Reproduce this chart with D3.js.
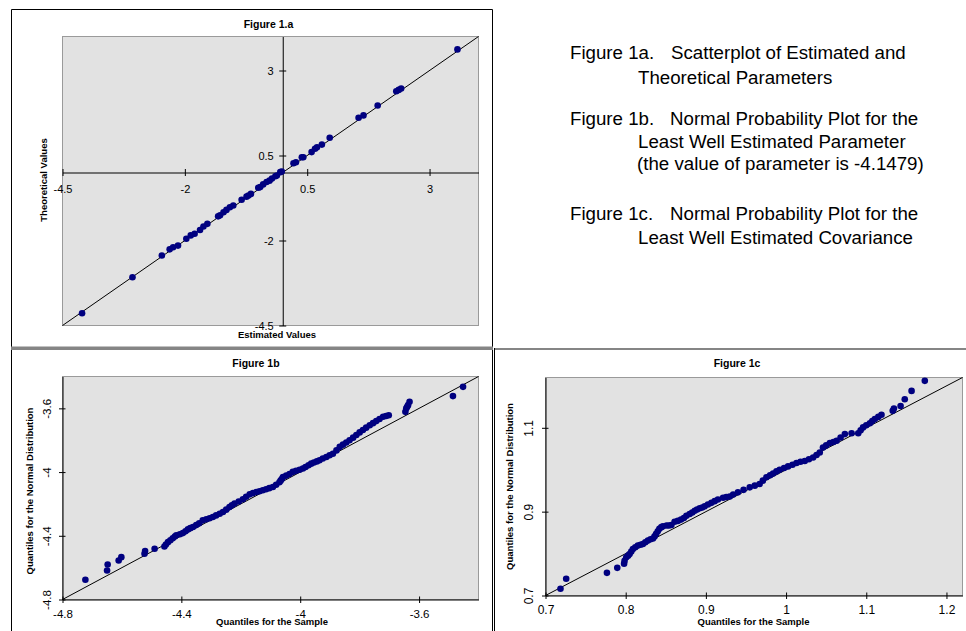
<!DOCTYPE html>
<html><head><meta charset="utf-8">
<script src="https://cdn.jsdelivr.net/npm/d3@7"></script>
<style>
body{margin:0;background:#fff;}
svg{display:block;}
</style></head><body>
<svg id="chart" width="966" height="631"></svg>
<script>
// ---------- DATA ----------
// Figure 1a: estimated vs theoretical parameters
const aEstimated   = [-4.10,-3.07,-2.47,-2.31,-2.24,-2.14,-1.97,-1.88,-1.80,-1.69,-1.62,-1.54,-1.32,-1.28,-1.21,-1.15,-1.08,-1.01,-0.84,-0.74,-0.70,-0.65,-0.50,-0.46,-0.40,-0.33,-0.27,-0.22,-0.15,-0.12,-0.05,-0.02,0.22,0.27,0.39,0.42,0.59,0.66,0.70,0.80,0.96,1.55,1.65,1.94,2.32,2.37,2.42,3.57];
const aTheoretical = [-4.14,-3.08,-2.44,-2.26,-2.20,-2.15,-1.95,-1.85,-1.80,-1.69,-1.59,-1.51,-1.29,-1.26,-1.17,-1.10,-1.02,-0.97,-0.80,-0.71,-0.68,-0.63,-0.45,-0.43,-0.35,-0.28,-0.24,-0.18,-0.11,-0.09,0.01,0.03,0.27,0.30,0.45,0.45,0.60,0.70,0.74,0.82,1.02,1.61,1.68,1.97,2.39,2.43,2.47,3.62];
const aDomain = [-4.5, 4];
const aXTicks = [-4.5, -2, 0.5, 3];
const aYTicks = [3, 0.5, -2, -4.5];

// Figure 1b: normal probability plot, least well estimated parameter
const bSample = [-4.723,-4.650,-4.648,-4.611,-4.602,-4.524,-4.522,-4.490,-4.457,-4.452,-4.445,-4.437,-4.429,-4.422,-4.417,-4.405,-4.395,-4.386,-4.378,-4.370,-4.361,-4.350,-4.340,-4.328,-4.316,-4.305,-4.294,-4.283,-4.271,-4.260,-4.249,-4.238,-4.230,-4.221,-4.207,-4.193,-4.182,-4.170,-4.159,-4.148,-4.137,-4.126,-4.115,-4.104,-4.092,-4.081,-4.070,-4.066,-4.062,-4.058,-4.047,-4.036,-4.025,-4.014,-4.002,-3.991,-3.982,-3.972,-3.963,-3.954,-3.944,-3.935,-3.924,-3.912,-3.901,-3.890,-3.878,-3.867,-3.856,-3.845,-3.834,-3.822,-3.811,-3.800,-3.789,-3.778,-3.766,-3.755,-3.744,-3.733,-3.721,-3.711,-3.702,-3.646,-3.643,-3.640,-3.637,-3.632,-3.486,-3.452];
const bNormal = [-4.676,-4.618,-4.580,-4.555,-4.534,-4.513,-4.496,-4.481,-4.467,-4.455,-4.440,-4.428,-4.415,-4.405,-4.397,-4.390,-4.383,-4.372,-4.360,-4.352,-4.345,-4.333,-4.322,-4.303,-4.296,-4.290,-4.282,-4.272,-4.262,-4.251,-4.236,-4.220,-4.209,-4.198,-4.185,-4.171,-4.155,-4.140,-4.132,-4.125,-4.120,-4.114,-4.108,-4.101,-4.094,-4.080,-4.064,-4.054,-4.044,-4.031,-4.022,-4.012,-3.999,-3.992,-3.985,-3.978,-3.968,-3.957,-3.947,-3.940,-3.933,-3.926,-3.915,-3.905,-3.894,-3.885,-3.864,-3.842,-3.828,-3.814,-3.800,-3.784,-3.767,-3.751,-3.736,-3.721,-3.706,-3.693,-3.680,-3.667,-3.653,-3.648,-3.643,-3.622,-3.600,-3.590,-3.580,-3.559,-3.523,-3.465];
const bDomain = [-4.8, -3.4];
const bTicks = [-4.8, -4.4, -4, -3.6];

// Figure 1c: normal probability plot, least well estimated covariance
const cSample = [0.7187,0.7258,0.7766,0.7895,0.7980,0.7986,0.8007,0.8030,0.8049,0.8070,0.8090,0.8120,0.8152,0.8185,0.8215,0.8245,0.8277,0.8310,0.8340,0.8360,0.8380,0.8400,0.8420,0.8445,0.8465,0.8510,0.8540,0.8570,0.8610,0.8650,0.8690,0.8725,0.8757,0.8798,0.8830,0.8860,0.8890,0.8923,0.8955,0.8985,0.9025,0.9069,0.9110,0.9150,0.9214,0.9255,0.9297,0.9340,0.9400,0.9470,0.9547,0.9610,0.9670,0.9710,0.9755,0.9800,0.9838,0.9880,0.9920,0.9975,1.0025,1.0080,1.0130,1.0180,1.0233,1.0285,1.0337,1.0380,1.0420,1.0460,1.0500,1.0546,1.0590,1.0630,1.0680,1.0733,1.0817,1.0900,1.0930,1.0960,1.1000,1.1045,1.1075,1.1107,1.1150,1.1190,1.1330,1.1345,1.1428,1.1480,1.1565,1.1730];
const cNormal = [0.716,0.740,0.754,0.766,0.776,0.783,0.791,0.795,0.799,0.805,0.811,0.815,0.819,0.821,0.823,0.827,0.831,0.834,0.836,0.841,0.847,0.853,0.859,0.863,0.865,0.867,0.867,0.868,0.876,0.878,0.881,0.885,0.890,0.8945,0.898,0.902,0.905,0.908,0.910,0.913,0.917,0.921,0.925,0.929,0.933,0.935,0.936,0.941,0.946,0.952,0.958,0.962,0.966,0.974,0.982,0.987,0.991,0.996,1.000,1.004,1.008,1.012,1.016,1.019,1.021,1.025,1.029,1.035,1.041,1.053,1.058,1.0635,1.066,1.069,1.077,1.085,1.087,1.087,1.094,1.101,1.106,1.111,1.116,1.121,1.126,1.131,1.1405,1.146,1.152,1.168,1.188,1.212];
const cDomain = [0.7, 1.22];
const cXTicks = [0.7, 0.8, 0.9, 1, 1.1, 1.2];
const cYTicks = [0.7, 0.9, 1.1];

const captionLines = ["Figure 1a.", "Scatterplot of Estimated and", "Theoretical Parameters",
  "Figure 1b.", "Normal Probability Plot for the", "Least Well Estimated Parameter", "(the value of parameter is -4.1479)",
  "Figure 1c.", "Normal Probability Plot for the", "Least Well Estimated Covariance"];

// ---------- DRAWING ----------
const svg = d3.select('#chart');
const FONT = '"Liberation Sans", Arial, Helvetica, sans-serif';
const DOT = '#000080';
const PLOTBG = '#e2e2e2';
const PLOTBORDER = '#9a9a9a';
const fmt = d => String(d);

// panel frames
svg.append('path').attr('d','M11.5,347 V9.5 H492.5 V347').attr('fill','none').attr('stroke','#000');
svg.append('rect').attr('x',11).attr('y',346.5).attr('width',482).attr('height',3.5).attr('fill','#858585');
svg.append('line').attr('x1',11.5).attr('x2',11.5).attr('y1',350).attr('y2',631).attr('stroke','#000');
svg.append('line').attr('x1',492.5).attr('x2',492.5).attr('y1',350).attr('y2',631).attr('stroke','#000');
svg.append('line').attr('x1',494.5).attr('x2',494.5).attr('y1',348).attr('y2',631).attr('stroke','#000');
svg.append('rect').attr('x',495).attr('y',348).attr('width',471).attr('height',2).attr('fill','#858585');

function styleAxis(g, fs) {
  g.attr('font-family', FONT);
  g.select('.domain').attr('stroke','#000');
  g.selectAll('.tick line').attr('stroke','#000');
  g.selectAll('.tick text').attr('fill','#000').attr('font-size', fs).attr('font-family', FONT);
}

function plotBg(x, y) {
  const [x0,x1] = x.range(), [y0,y1] = y.range();
  svg.append('rect').attr('x',x0).attr('y',y1).attr('width',x1-x0).attr('height',y0-y1)
    .attr('fill',PLOTBG).attr('stroke',PLOTBORDER);
}

function diag(x, y, dom) {
  svg.append('line').attr('x1',x(dom[0])).attr('y1',y(dom[0])).attr('x2',x(dom[1])).attr('y2',y(dom[1]))
    .attr('stroke','#000').attr('stroke-width',1);
}

function dots(x, y, xs, ys) {
  svg.append('g').selectAll('circle').data(xs.map((v,i)=>[v,ys[i]])).join('circle')
    .attr('cx',d=>x(d[0])).attr('cy',d=>y(d[1])).attr('r',3.3).attr('fill',DOT);
}

function label(txt, x, y, fs, bold, rot) {
  const t = svg.append('text').text(txt).attr('font-family',FONT).attr('font-size',fs)
    .attr('font-weight', bold ? 'bold' : 'normal').attr('text-anchor','middle').attr('fill','#000');
  if (rot) t.attr('transform',`translate(${x},${y}) rotate(-90)`);
  else t.attr('x',x).attr('y',y);
}

// ----- Figure 1a -----
{
  const x = d3.scaleLinear().domain(aDomain).range([62.5, 478.5]);
  const y = d3.scaleLinear().domain(aDomain).range([325.5, 36.5]);
  plotBg(x, y);
  diag(x, y, aDomain);
  const gx = svg.append('g').attr('transform',`translate(0,${y(0)})`)
    .call(d3.axisBottom(x).tickValues(aXTicks).tickFormat(fmt).tickSize(3).tickSizeOuter(0));
  styleAxis(gx, 11);
  gx.selectAll('.tick line').attr('y1',-3.5).attr('y2',3.5);
  gx.selectAll('.tick text').attr('y',13).attr('dy','0.71em');
  const gy = svg.append('g').attr('transform',`translate(${x(0)},0)`)
    .call(d3.axisLeft(y).tickValues(aYTicks).tickFormat(fmt).tickSize(3).tickSizeOuter(0));
  styleAxis(gy, 11);
  gy.selectAll('.tick line').attr('x1',-3.5).attr('x2',3.5);
  gy.selectAll('.tick text').attr('x',-9);
  dots(x, y, aEstimated, aTheoretical);
  label('Figure  1.a', 268.5, 27.5, 10.5, true);
  label('Estimated Values', 277, 338, 9.5, true);
  label('Theoretical Values', 46.5, 180, 9.5, true, true);
}

// ----- Figure 1b -----
{
  const x = d3.scaleLinear().domain(bDomain).range([62.5, 478.5]);
  const y = d3.scaleLinear().domain(bDomain).range([599.5, 376.5]);
  plotBg(x, y);
  diag(x, y, bDomain);
  dots(x, y, bSample, bNormal);
  const gx = svg.append('g').attr('transform',`translate(0,${y.range()[0]})`)
    .call(d3.axisBottom(x).tickValues(bTicks).tickFormat(fmt).tickSize(3).tickSizeOuter(0));
  styleAxis(gx, 11.5);
  gx.selectAll('.tick line').attr('y1',-3).attr('y2',3.5);
  gx.selectAll('.tick text').attr('y',10.5).attr('dy','0.71em');
  const gy = svg.append('g').attr('transform',`translate(${x.range()[0]},0)`)
    .call(d3.axisLeft(y).tickValues(bTicks).tickFormat(fmt).tickSize(3).tickSizeOuter(0));
  styleAxis(gy, 11.5);
  gy.selectAll('.tick line').attr('x1',-3.5).attr('x2',3);
  gy.selectAll('.tick text').attr('transform','rotate(-90)').attr('x',0).attr('y',-12).attr('dy',0).attr('text-anchor','middle');
  label('Figure  1b', 256, 367, 10.5, true);
  label('Quantiles for the  Sample', 272, 624.5, 9.5, true);
  label('Quantiles for the Normal Distribution', 32.5, 491, 9.5, true, true);
}

// ----- Figure 1c -----
{
  const x = d3.scaleLinear().domain(cDomain).range([545.5, 962.5]);
  const y = d3.scaleLinear().domain(cDomain).range([595.5, 377.5]);
  plotBg(x, y);
  diag(x, y, cDomain);
  dots(x, y, cSample, cNormal);
  const gx = svg.append('g').attr('transform',`translate(0,${y.range()[0]})`)
    .call(d3.axisBottom(x).tickValues(cXTicks).tickFormat(fmt).tickSize(3).tickSizeOuter(0));
  styleAxis(gx, 12);
  gx.selectAll('.tick line').attr('y1',-3).attr('y2',3.5);
  gx.selectAll('.tick text').attr('y',9.5).attr('dy','0.71em');
  const gy = svg.append('g').attr('transform',`translate(${x.range()[0]},0)`)
    .call(d3.axisLeft(y).tickValues(cYTicks).tickFormat(fmt).tickSize(3).tickSizeOuter(0));
  styleAxis(gy, 12);
  gy.selectAll('.tick line').attr('x1',-3.5).attr('x2',3);
  gy.selectAll('.tick text').attr('transform','rotate(-90)').attr('x',0).attr('y',-12.5).attr('dy',0).attr('text-anchor','middle');
  label('Figure 1c', 737, 366.5, 10.5, true);
  label('Quantiles for the  Sample', 753.5, 625, 9.5, true);
  label('Quantiles for the Normal Distribution', 512.5, 486.5, 9.5, true, true);
}

// ----- captions -----
const capPos = [[570,58.5],[671,58.5],[638,83.5],[570,125],[670,125],[638,147.5],[637,170],[570,219.5],[670,219.5],[638,243.5]];
svg.append('g').selectAll('text').data(captionLines).join('text')
  .attr('x',(d,i)=>capPos[i][0]).attr('y',(d,i)=>capPos[i][1])
  .attr('font-family',FONT).attr('font-size',18.7).attr('fill','#000')
  .text(d=>d);
</script>
</body></html>
